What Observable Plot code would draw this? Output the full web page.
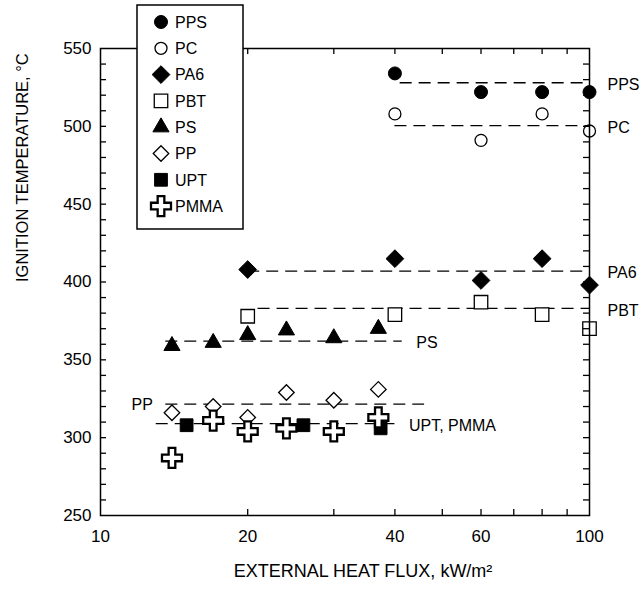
<!DOCTYPE html>
<html><head><meta charset="utf-8">
<script src="https://cdn.jsdelivr.net/npm/d3@7"></script>
<script src="https://cdn.jsdelivr.net/npm/@observablehq/plot@0.6"></script>
<style>body{margin:0;background:#fff} svg{display:block}</style>
</head><body><div id="chart"></div>
<script>
// ---- data ----
const seriesNames = ["PPS", "PC", "PA6", "PBT", "PS", "PP", "UPT", "PMMA"];
const fluxPPS = [40, 60, 80, 100];            const tempPPS = [534, 522, 522, 522];
const fluxPC = [40, 60, 80, 100];             const tempPC = [508, 491, 508, 497];
const fluxPA6 = [20, 40, 60, 80, 100];        const tempPA6 = [408, 415, 401, 415, 398];
const fluxPBT = [20, 40, 60, 80, 100];        const tempPBT = [378, 379, 387, 379, 370];
const fluxPS = [14, 17, 20, 24, 30, 37];      const tempPS = [359, 361, 366, 369, 364, 370];
const fluxPP = [14, 17, 20, 24, 30, 37];      const tempPP = [316, 320, 313, 329, 324, 331];
const fluxUPT = [15, 26, 37.4];               const tempUPT = [308, 308, 306];
const fluxPMMA = [14, 17, 20, 24, 30, 37];    const tempPMMA = [287, 311, 304, 306, 304, 313];

// dashed average lines
const fitLabels = ["PPS", "PC", "PA6", "PBT", "PS", "PP", "UPT, PMMA"];
const fitTemps  = [528, 500.5, 407, 383, 362, 321.5, 309];
const fitFrom   = [41, 40, 20, 21, 13.6, 13.6, 13];
const fitTo     = [100, 100, 100, 100, 41.4, 46, 40];
const fitLabelGroup = ["axis", "axis", "axis", "axis", "end", "start", "end"];

const xTickLabels = [10, 20, 40, 60, 80, 100];
const yTickLabels = [250, 300, 350, 400, 450, 500, 550];
const xTickMarks = [20, 30, 40, 50, 60, 70, 80, 90];
const yTickMarks = [260, 270, 280, 290, 300, 310, 320, 330, 340, 350, 360, 370, 380, 390, 400,
                    410, 420, 430, 440, 450, 460, 470, 480, 490, 500, 510, 520, 530, 540];

// ---- build tables ----
const fluxes = [fluxPPS, fluxPC, fluxPA6, fluxPBT, fluxPS, fluxPP, fluxUPT, fluxPMMA];
const temps  = [tempPPS, tempPC, tempPA6, tempPBT, tempPS, tempPP, tempUPT, tempPMMA];
const styles = {
  PPS:  {symbol: "circle",   d3s: d3.symbolCircle,   fill: "black", r: 6.5, sw: 1},
  PC:   {symbol: "circle",   d3s: d3.symbolCircle,   fill: "white", r: 6,   sw: 1.3},
  PA6:  {symbol: "diamond2", d3s: d3.symbolDiamond2, fill: "black", r: 8,   sw: 1},
  PBT:  {symbol: "square",   d3s: d3.symbolSquare,   fill: "white", r: 7.6, sw: 1.3},
  PS:   {symbol: "triangle", d3s: d3.symbolTriangle, fill: "black", r: 6,   sw: 1},
  PP:   {symbol: "diamond2", d3s: d3.symbolDiamond2, fill: "white", r: 7,   sw: 1.3},
  UPT:  {symbol: "square",   d3s: d3.symbolSquare,   fill: "black", r: 7.2, sw: 1},
  PMMA: {symbol: "cross",    d3s: d3.symbolCross,    fill: "white", r: 8.4, sw: 2.3}
};
const points = seriesNames.map((name, i) =>
  fluxes[i].map((f, j) => ({series: name, flux: f, temp: temps[i][j]})));
const fits = fitLabels.map((label, i) => ({label, temp: fitTemps[i], from: fitFrom[i], to: fitTo[i], group: fitLabelGroup[i]}));

const W = 643, H = 590, mL = 100, mR = 54, mT = 48, mB = 75;
const plotW = W - mL - mR, plotH = H - mT - mB;
const font = "'Liberation Sans', Arial, Helvetica, sans-serif";

const dotMarks = seriesNames.map((name, i) => {
  const s = styles[name];
  return Plot.dot(points[i], {x: "flux", y: "temp", symbol: s.symbol, r: s.r,
    fill: s.fill, stroke: "black", strokeWidth: s.sw});
});

const plot = Plot.plot({
  width: W, height: H,
  marginLeft: mL, marginRight: mR, marginTop: mT, marginBottom: mB,
  style: {fontFamily: font, fontSize: "16px", color: "black", background: "white", overflow: "visible"},
  x: {type: "log", domain: [10, 100]},
  y: {domain: [250, 550]},
  marks: [
    Plot.ruleY(fits, {y: "temp", x1: "from", x2: "to", stroke: "black", strokeWidth: 1.3, strokeDasharray: "12,7"}),
    ...dotMarks,
    Plot.text(fits.filter(d => d.group === "axis"), {x: "to", y: "temp", text: "label", textAnchor: "start", dx: 18, dy: 2, fontSize: 16, fill: "black"}),
    Plot.text(fits.filter(d => d.group === "end"), {x: "to", y: "temp", text: "label", textAnchor: "start", dx: 14, dy: 2, fontSize: 16, fill: "black"}),
    Plot.text(fits.filter(d => d.group === "start"), {x: "from", y: "temp", text: "label", textAnchor: "end", dx: -13, dy: 1, fontSize: 16, fill: "black"}),
    Plot.frame({stroke: "black", strokeWidth: 1.5}),
    Plot.tickX(xTickMarks, {x: d => d, insetTop: plotH - 6, stroke: "black", strokeWidth: 1.3}),
    Plot.tickX(xTickMarks, {x: d => d, insetBottom: plotH - 6, stroke: "black", strokeWidth: 1.3}),
    Plot.tickY(yTickMarks, {y: d => d, insetRight: plotW - 6, stroke: "black", strokeWidth: 1.3}),
    Plot.tickY(yTickMarks, {y: d => d, insetLeft: plotW - 6, stroke: "black", strokeWidth: 1.3}),
    Plot.axisX(xTickLabels, {tickSize: 0, tickPadding: 14, tickFormat: d => String(d), label: null, fontSize: 17}),
    Plot.axisY(yTickLabels, {tickSize: 0, tickPadding: 9, tickFormat: d => String(d), label: null, fontSize: 17}),
    Plot.text(["EXTERNAL HEAT FLUX, kW/m²"], {frameAnchor: "bottom", dy: 61, dx: 18, text: d => d, fontSize: 18, fill: "black"}),
    Plot.text(["IGNITION TEMPERATURE, °C"], {frameAnchor: "left", dx: -78, rotate: -90, text: d => d, fontSize: 16.5, fill: "black"})
  ]
});

// ---- legend box (drawn on top of the frame, as in the reference) ----
const svg = d3.select(plot);
const lg = svg.append("g").attr("font-family", font).attr("font-size", 16).attr("text-anchor", "start");
lg.append("rect").attr("x", 137).attr("y", 5).attr("width", 106).attr("height", 224)
  .attr("fill", "white").attr("stroke", "black").attr("stroke-width", 1.5);
seriesNames.forEach((name, i) => {
  const s = styles[name];
  const y = 22 + i * 26.3;
  lg.append("path")
    .attr("transform", `translate(161,${y})`)
    .attr("d", d3.symbol(s.d3s, Math.PI * s.r * s.r)())
    .attr("fill", s.fill).attr("stroke", "black").attr("stroke-width", s.sw);
  lg.append("text").attr("x", 175).attr("y", y).attr("dy", "0.36em")
    .attr("text-anchor", "start").attr("fill", "black").text(name);
});

document.getElementById("chart").appendChild(plot);
</script>
</body></html>
